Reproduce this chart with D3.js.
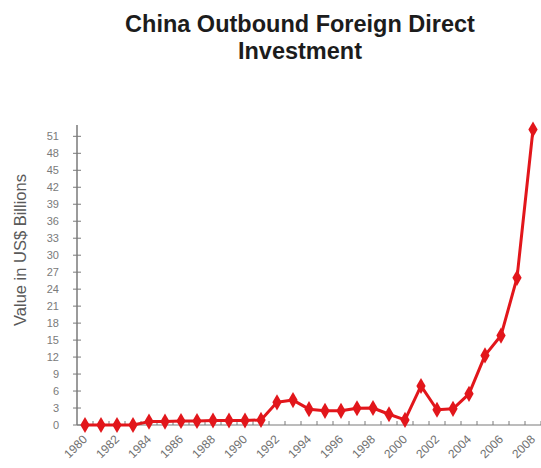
<!DOCTYPE html>
<html>
<head>
<meta charset="utf-8">
<script src="https://cdn.jsdelivr.net/npm/d3@7"></script>
<style>
  html, body { margin: 0; padding: 0; background: #fff; }
  svg { display: block; }
</style>
</head>
<body>
<svg id="chart" width="541" height="468"></svg>
<script>
const years = [1980,1981,1982,1983,1984,1985,1986,1987,1988,1989,1990,1991,1992,1993,1994,1995,1996,1997,1998,1999,2000,2001,2002,2003,2004,2005,2006,2007,2008];
const values = [0.0,0.0,0.0,0.0,0.6,0.6,0.7,0.7,0.8,0.8,0.8,0.9,4.0,4.4,2.8,2.5,2.5,2.95,3.0,1.9,0.9,6.9,2.7,2.85,5.5,12.3,15.8,26.0,52.2];
const yTicks = [0,3,6,9,12,15,18,21,24,27,30,33,36,39,42,45,48,51];
const xTickLabels = [1980,1982,1984,1986,1988,1990,1992,1994,1996,1998,2000,2002,2004,2006,2008];
const titleLines = ["China Outbound Foreign Direct", "Investment"];
const yTitle = "Value in US$ Billions";

const svg = d3.select("#chart");
const font = "'Liberation Sans', Arial, sans-serif";
const axisColor = "#7a7a7a";
const red = "#e2161b";

const x = d3.scalePoint().domain(years).range([77, 541]).padding(0.5);
const y = d3.scaleLinear().domain([0, 53]).range([425, 125]);

// Title
svg.append("text")
  .attr("x", 300).attr("y", 32)
  .attr("text-anchor", "middle")
  .style("font-family", font).style("font-weight", "bold")
  .style("font-size", "23.5px").style("fill", "#1c1c1c")
  .selectAll("tspan").data(titleLines).join("tspan")
  .attr("x", 300).attr("dy", (d, i) => i === 0 ? 0 : 27)
  .text(d => d);

// Y axis title
svg.append("text")
  .attr("transform", "translate(26,250) rotate(-90)")
  .attr("text-anchor", "middle")
  .style("font-family", font).style("font-size", "16.5px").style("fill", "#5a5a5a")
  .text(yTitle);

// Y axis
const yAxis = svg.append("g");
yAxis.append("line")
  .attr("x1", 77).attr("x2", 77).attr("y1", y(53)).attr("y2", y(0))
  .attr("stroke", axisColor).attr("stroke-width", 1.5);
yAxis.selectAll("line.tick").data(yTicks).join("line")
  .attr("class", "tick")
  .attr("x1", 73).attr("x2", 81)
  .attr("y1", d => y(d)).attr("y2", d => y(d))
  .attr("stroke", axisColor).attr("stroke-width", 1);
yAxis.selectAll("text").data(yTicks).join("text")
  .attr("x", 59).attr("y", d => y(d)).attr("dy", "0.35em")
  .attr("text-anchor", "end")
  .style("font-family", font).style("font-size", "11px").style("fill", "#7a7a7a")
  .text(d => d);

// X axis
const xAxis = svg.append("g");
const step = x.step();
xAxis.append("line")
  .attr("x1", 77).attr("x2", 541).attr("y1", y(0)).attr("y2", y(0))
  .attr("stroke", axisColor).attr("stroke-width", 1.2);
xAxis.selectAll("line.tick").data(years).join("line")
  .attr("class", "tick")
  .attr("x1", d => x(d) + step / 2).attr("x2", d => x(d) + step / 2)
  .attr("y1", y(0)).attr("y2", y(0) - 4)
  .attr("stroke", axisColor).attr("stroke-width", 1);
xAxis.selectAll("text").data(xTickLabels).join("text")
  .attr("transform", d => `translate(${x(d) + 3},${y(0) + 15}) rotate(-45)`)
  .attr("text-anchor", "end")
  .style("font-family", font).style("font-size", "12px").style("fill", "#707070")
  .text(d => d);

// Line
const data = years.map((yr, i) => ({ year: yr, value: values[i] }));
svg.append("path")
  .datum(data)
  .attr("d", d3.line().x(d => x(d.year)).y(d => y(d.value)))
  .attr("fill", "none").attr("stroke", red).attr("stroke-width", 3)
  .attr("stroke-linejoin", "round");

// Markers
svg.selectAll("path.marker").data(data).join("path")
  .attr("class", "marker")
  .attr("d", d3.symbol().type(d3.symbolDiamond).size(75))
  .attr("transform", d => `translate(${x(d.year)},${y(d.value)})`)
  .attr("fill", red);
</script>
</body>
</html>
